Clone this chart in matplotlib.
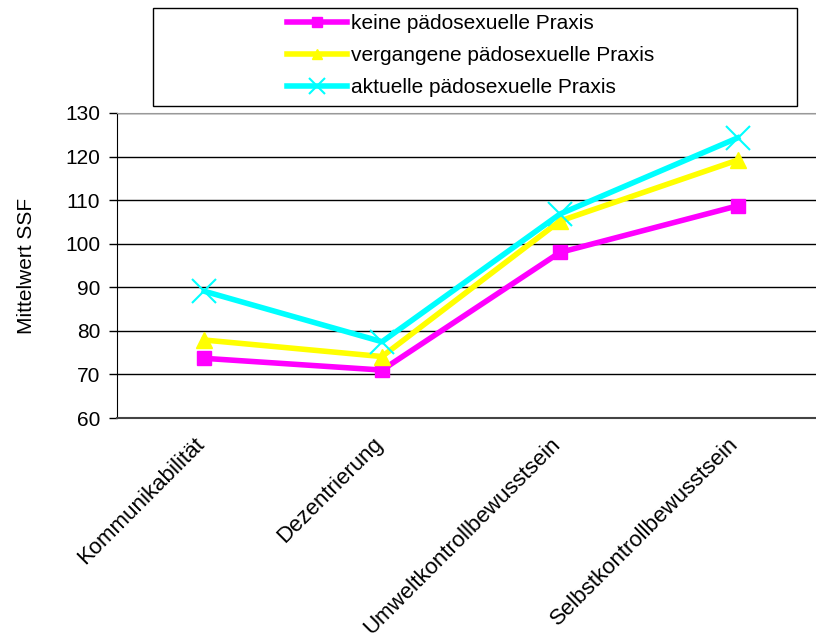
import matplotlib.pyplot as plt
import matplotlib.transforms as mtransforms
from matplotlib.patches import Rectangle

plt.rcParams['font.family'] = ['Liberation Sans', 'DejaVu Sans']

categories = ["Kommunikabilität", "Dezentrierung", "Umweltkontrollbewusstsein", "Selbstkontrollbewusstsein"]
keine = [73.7, 71.0, 98.0, 108.7]
vergangene = [77.9, 74.1, 105.2, 119.2]
aktuelle = [89.1, 77.5, 106.8, 124.3]
labels = ["keine pädosexuelle Praxis", "vergangene pädosexuelle Praxis", "aktuelle pädosexuelle Praxis"]

fig = plt.figure(figsize=(8.16, 6.39), dpi=100)
ax = fig.add_axes([117/816, 1-418/639, 1-117/816, (418-113)/639])

x = range(len(categories))
ax.plot(x, keine, color='#FF00FF', lw=4, marker='s', ms=10, label=labels[0])
ax.plot(x, vergangene, color='#FFFF00', lw=4, marker='^', ms=11, label=labels[1])
ax.plot(x, aktuelle, color='#00FFFF', lw=4, marker='x', ms=17, mew=1.5, label=labels[2])

ax.set_xlim(-0.49, 3.44)
ax.set_ylim(60, 130)
ax.set_yticks(range(60, 131, 10))
ax.yaxis.grid(True, color='black', lw=1)
ax.set_axisbelow(True)
ax.set_xticks(list(x))
ax.set_xticklabels(categories, rotation=45, ha='right', va='bottom', rotation_mode='anchor', fontsize=16)
ax.tick_params(axis='x', length=0, pad=22)
ax.tick_params(axis='y', length=6, width=1, labelsize=15, direction='out', pad=6)
ax.set_ylabel("Mittelwert SSF", fontsize=15, labelpad=21)

# nudge category labels a bit to the right
offset = mtransforms.ScaledTranslation(5/100, 0, fig.dpi_scale_trans)
for lab in ax.get_xticklabels():
    lab.set_transform(lab.get_transform() + offset)

ax.spines['right'].set_visible(False)
ax.spines['top'].set_color('#999999')
ax.spines['left'].set_color('black')
ax.spines['bottom'].set_color('#444444')
ax.spines['bottom'].set_linewidth(1.5)

fig.patches.append(Rectangle((153/816, 1-106/639), 644/816, 98/639, transform=fig.transFigure,
                             fill=False, edgecolor='black', lw=1))
handles, lbls = ax.get_legend_handles_labels()
fig.legend(handles, lbls, loc='upper left', bbox_to_anchor=(287/816, 1-14/639), frameon=False,
           fontsize=15, handlelength=2.9, handletextpad=0.15, labelspacing=0.62, markerscale=0.7,
           borderpad=0, borderaxespad=0)

fig.savefig("out.png", dpi=100)
